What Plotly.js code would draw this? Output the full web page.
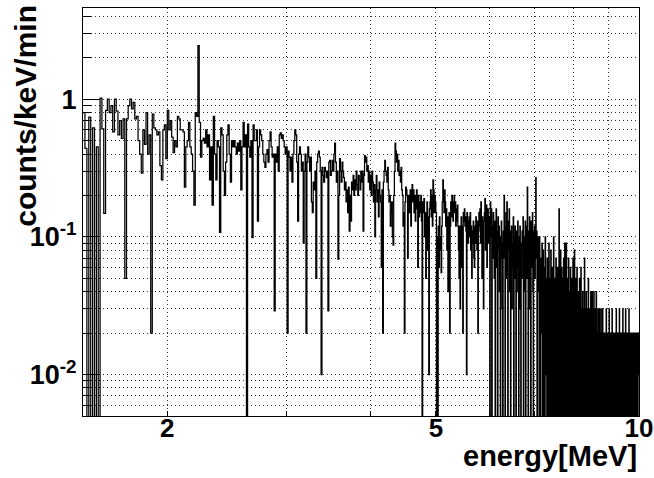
<!DOCTYPE html>
<html><head><meta charset="utf-8">
<script src="https://cdn.plot.ly/plotly-3.0.1.min.js"></script>
<style>html,body{margin:0;padding:0;background:#fff}#chart{width:654px;height:478px}</style>
</head><body><div id="chart"></div>
<script>
// histogram: 10 keV bins from 1.50 MeV to 10.00 MeV (one row = 0.1 MeV)
const energyStart = 1.5;
const binWidth = 0.01;
const energyEnd = 10.0;
const rate = [
0.80,0.44,0,0.74,0,0.62,0,0.45,0,1.02,
0.61,0.148,0.83,1.0,0.80,0.90,0.58,1.0,0.82,0.55,
0.70,0.52,0.72,0.05,0.72,0.90,1.00,0.85,0.95,0.72,
0.75,0.50,0.40,0.29,0.60,0.47,0.80,0.40,0.55,0.02,
0.78,0.62,0.60,0.55,0.58,0.33,0.26,0.60,0.65,0.37,
0.83,0.60,0.70,0.53,0.41,0.50,0.45,0.75,0.72,0.60,
0.60,0.58,0.23,0.45,0.50,0.68,0.45,0.40,0.30,0.17,
0.80,0.75,2.45,0.68,0.38,0.50,0.52,0.48,0.60,0.45,
0.55,0.26,0.45,0.17,0.75,0.40,0.26,0.50,0.45,0.108,
0.62,0.55,0.30,0.20,0.35,0.55,0.65,0.40,0.25,0.50,
0.45,0.50,0.45,0.40,0.48,0.42,0.50,0.22,0.45,0.68,
0.45,0.55,0,0.66,0.45,0.38,0.50,0.099,0.65,0.50,
0.50,0.60,0.13,0.45,0.60,0.55,0.50,0.40,0.35,0.32,
0.40,0.43,0.35,0.50,0.58,0.45,0.38,0.40,0.029,0.40,
0.35,0.45,0.30,0.55,0.57,0.52,0.55,0.50,0.45,0.40,
0.45,0.02,0.42,0.38,0.30,0.38,0.25,0.40,0.50,0.60,
0.55,0.35,0.13,0.40,0.45,0.40,0.30,0.35,0.09,0.30,
0.40,0.02,0.35,0.45,0.38,0.30,0.38,0.18,0.15,0.25,
0.22,0.30,0.05,0.35,0.40,0.42,0.38,0.30,0.01,0.32,
0.28,0.25,0.32,0.30,0.27,0.30,0.029,0.35,0.36,0.28,
0.30,0.36,0.30,0.40,0.48,0.35,0.25,0.30,0.069,0.20,
0.37,0.30,0.25,0.35,0.30,0.27,0.22,0.25,0.18,0.22,
0.15,0.23,0.11,0.20,0.13,0.25,0.22,0.28,0.20,0.26,
0.22,0.30,0.24,0.20,0.28,0.26,0.22,0.30,0.25,0.30,
0.11,0.28,0.39,0.35,0.38,0.30,0.33,0.25,0.30,0.22,
0.28,0.20,0.30,0.25,0.18,0.24,0.10,0.22,0.28,0.18,
0.22,0.14,0.25,0.20,0.18,0.06,0.22,0.02,0.25,0.30,
0.36,0.30,0.28,0.25,0.32,0.22,0.18,0.20,0.12,0.15,
0.18,0.10,0.087,0.20,0.30,0.48,0.42,0.35,0.40,0.30,
0.36,0.28,0.30,0.25,0.32,0.22,0.20,0.12,0.15,0.02,
0.18,0.23,0.22,0.20,0.07,0.18,0.20,0.15,0.22,0.12,
0.20,0.24,0.18,0.22,0.15,0.20,0.13,0.18,0.22,0.16,
0.06,0.20,0.14,0.18,0.15,0.20,0.13,0,0.18,0.15,
0.19,0.10,0.15,0.05,0.12,0.18,0.08,0.14,0.01,0.16,
0.18,0.22,0.14,0.20,0.12,0.26,0.22,0.15,0.20,0.18,
0.15,0,0.10,0,0.12,0.06,0.14,0.08,0.10,0.055,
0.12,0.18,0.26,0.20,0.15,0.22,0.18,0.12,0.16,0.08,
0.14,0.04,0.10,0.15,0.02,0.12,0.18,0.14,0.20,0.16,
0.13,0.18,0.20,0.15,0.18,0.12,0.16,0.13,0.17,0.12,
0.08,0.05,0.12,0.03,0.10,0.14,0.06,0.12,0.02,0.15,
0.13,0.16,0.12,0.14,0.11,0.01,0.15,0.12,0.09,0.13,
0.14,0.10,0.15,0.08,0.12,0.05,0.11,0.09,0.13,0.07,
0.06,0.12,0.09,0.14,0.10,0.08,0.13,0.02,0.11,0.15,
0.12,0.16,0.09,0.18,0.11,0.05,0.14,0.10,0.03,0.13,
0.15,0.19,0.08,0.13,0.17,0.06,0.12,0.16,0.09,0.14,
0.13,0,0.18,0.10,0.16,0,0.12,0.07,0.15,0.10,
0.05,0.13,0,0.09,0.16,0.06,0.11,0,0.14,0.08,
0.12,0.04,0.10,0,0.07,0.13,0.09,0.03,0,0.11,
0.07,0.20,0.12,0,0.09,0.15,0.05,0.18,0.10,0,
0.13,0.08,0.16,0.04,0.11,0,0.07,0.12,0.03,0.09,
0.06,0.14,0,0.10,0.05,0.12,0.08,0,0.11,0.04,
0.09,0.13,0.06,0,0.10,0.03,0.12,0.07,0,0.09,
0.05,0.11,0.08,0.14,0,0.06,0.10,0.04,0.13,0,
0.08,0.12,0.05,0.23,0.09,0,0.11,0.07,0.14,0.03,
0.10,0,0.13,0.06,0.09,0.15,0.04,0,0.11,0.08,
0.12,0.05,0.09,0.27,0.07,0.11,0,0.08,0.04,0.10,
0.06,0,0.10,0.03,0,0.07,0.05,0.02,0.09,0,
0.04,0.08,0,0.02,0.06,0,0.10,0.03,0.05,0.01,
0,0.07,0.04,0.02,0,0.09,0.03,0,0.05,0.02,
0.08,0,0.03,0.06,0.01,0,0.04,0.10,0,0.02,
0.05,0.03,0,0.07,0.02,0.04,0,0.06,0.01,0,
0.03,0.16,0.05,0,0.02,0.08,0,0.04,0.06,0.01,
0,0.05,0.03,0.07,0,0.02,0.09,0.04,0,0.03,
0.09,0.02,0,0.05,0.03,0,0.07,0.01,0.04,0,
0.02,0.06,0.03,0,0.01,0.05,0,0.02,0.07,0.03,
0,0.04,0.08,0.02,0,0.03,0.05,0,0.01,0.06,
0.02,0,0.04,0.03,0.01,0,0.05,0.02,0,0.03,
0.06,0.01,0,0.03,0.02,0.04,0,0.01,0.03,0,
0.07,0.02,0.03,0,0.01,0.04,0.02,0,0.03,0.01,
0,0.05,0.02,0.01,0,0.03,0.02,0,0.04,0.01,
0.02,0,0.04,0.01,0.03,0,0.02,0.04,0,0.01,
0.03,0.02,0,0.01,0.04,0,0.02,0.01,0,0.03,
0,0.02,0.01,0.03,0,0.01,0.02,0,0.03,0.01,
0.02,0,0.01,0.03,0.02,0,0.01,0,0.02,0.01,
0,0.01,0.02,0,0.03,0.01,0,0.02,0.01,0,
0.02,0.01,0,0.03,0,0.01,0.02,0,0.01,0.02,
0,0.01,0.03,0,0.02,0.01,0,0.01,0.02,0,
0.01,0.02,0,0.01,0,0.03,0.01,0,0.02,0.01,
0,0.01,0.02,0,0.01,0.03,0,0.01,0,0.02,
0.01,0,0.02,0.01,0,0.01,0.03,0,0.01,0.02,
0,0.01,0.01,0.02,0,0.03,0.01,0,0.02,0.01,
0.01,0,0.02,0.01,0,0.01,0.03,0.01,0,0.02,
0,0.01,0.02,0,0.01,0.01,0,0.02,0.01,0,
0.01,0.02,0,0.01,0,0.02,0.01,0,0.01,0.02,
0,0.01,0.01,0,0.02,0.01,0,0.01,0.01,0.02
];
const xTickVals = [2, 5, 10];
const xTickText = ['2', '5', '10'];
const xMinorVals = [3, 4, 6, 7, 8, 9];
const yTickVals = [0.01, 0.1, 1];
const yTickText = ['10<sup>-2</sup>','10<sup>-1</sup>','1'];
const yMinorVals = [0.006,0.007,0.008,0.009,0.02,0.03,0.04,0.05,0.06,0.07,0.08,0.09,
                    0.2,0.3,0.4,0.5,0.6,0.7,0.8,0.9,2,3,4];
const xTitle = 'energy[MeV]';
const yTitle = 'counts/keV/min';
const yRange = [0.005, 4.6];

// empty bins: ROOT draws them down to the bottom of a log axis
const emptyLevel = 1e-4;
const xs = rate.map((_, i) => +(energyStart + i * binWidth).toFixed(3));
xs.push(energyEnd);
const ys = rate.map(v => v > 0 ? v : emptyLevel);
ys.push(ys[ys.length - 1]);

const fam = 'Liberation Sans, Arial, Helvetica, sans-serif';
const gridStyle = {gridcolor: '#333', griddash: '1px,3px', gridwidth: 1};

const trace = {
  x: xs, y: ys, type: 'scatter', mode: 'lines',
  line: {shape: 'hv', color: '#000', width: 1.25, simplify: false},
  hoverinfo: 'skip', showlegend: false
};

const layout = {
  width: 654, height: 478,
  margin: {l: 83, r: 15, t: 8, b: 62, pad: 0},
  paper_bgcolor: '#fff', plot_bgcolor: '#fff',
  showlegend: false,
  font: {family: fam, color: '#000'},
  xaxis: {
    type: 'log', range: [Math.log10(energyStart), Math.log10(energyEnd)],
    tickmode: 'array', tickvals: xTickVals, ticktext: xTickText,
    ticks: 'inside', ticklen: 5, tickwidth: 1, tickcolor: '#000',
    ticklabelstandoff: -11, ticklabeloverflow: 'allow',
    tickfont: {family: fam, size: 26, weight: 'bold', color: '#000'},
    showgrid: true, ...gridStyle,
    minor: {tickmode: 'array', tickvals: xMinorVals, ticks: 'inside', ticklen: 5,
            tickwidth: 1, tickcolor: '#000', showgrid: true, ...gridStyle},
    showline: true, linecolor: '#000', linewidth: 1, mirror: true,
    zeroline: false, fixedrange: true
  },
  yaxis: {
    type: 'log', range: [Math.log10(yRange[0]), Math.log10(yRange[1])],
    tickmode: 'array', tickvals: yTickVals, ticktext: yTickText,
    ticks: 'inside', ticklen: 17, tickwidth: 1, tickcolor: '#000',
    tickfont: {family: fam, size: 27, weight: 'bold', color: '#000'},
    showgrid: true, ...gridStyle,
    minor: {tickmode: 'array', tickvals: yMinorVals, ticks: 'inside', ticklen: 8,
            tickwidth: 1, tickcolor: '#000', showgrid: true, ...gridStyle},
    showline: true, linecolor: '#000', linewidth: 1, mirror: true,
    zeroline: false, fixedrange: true
  },
  annotations: [
    {text: xTitle, xref: 'paper', yref: 'paper', x: 1.0, y: -0.099,
     xanchor: 'right', yanchor: 'middle', showarrow: false,
     font: {family: fam, size: 29, weight: 'bold', color: '#000'}},
    {text: yTitle, xref: 'paper', yref: 'paper', x: -0.105, y: 0.735,
     xanchor: 'center', yanchor: 'middle', textangle: -90, showarrow: false,
     font: {family: fam, size: 30, weight: 'bold', color: '#000'}}
  ]
};

Plotly.newPlot('chart', [trace], layout, {staticPlot: true, displayModeBar: false});
</script>
</body></html>
